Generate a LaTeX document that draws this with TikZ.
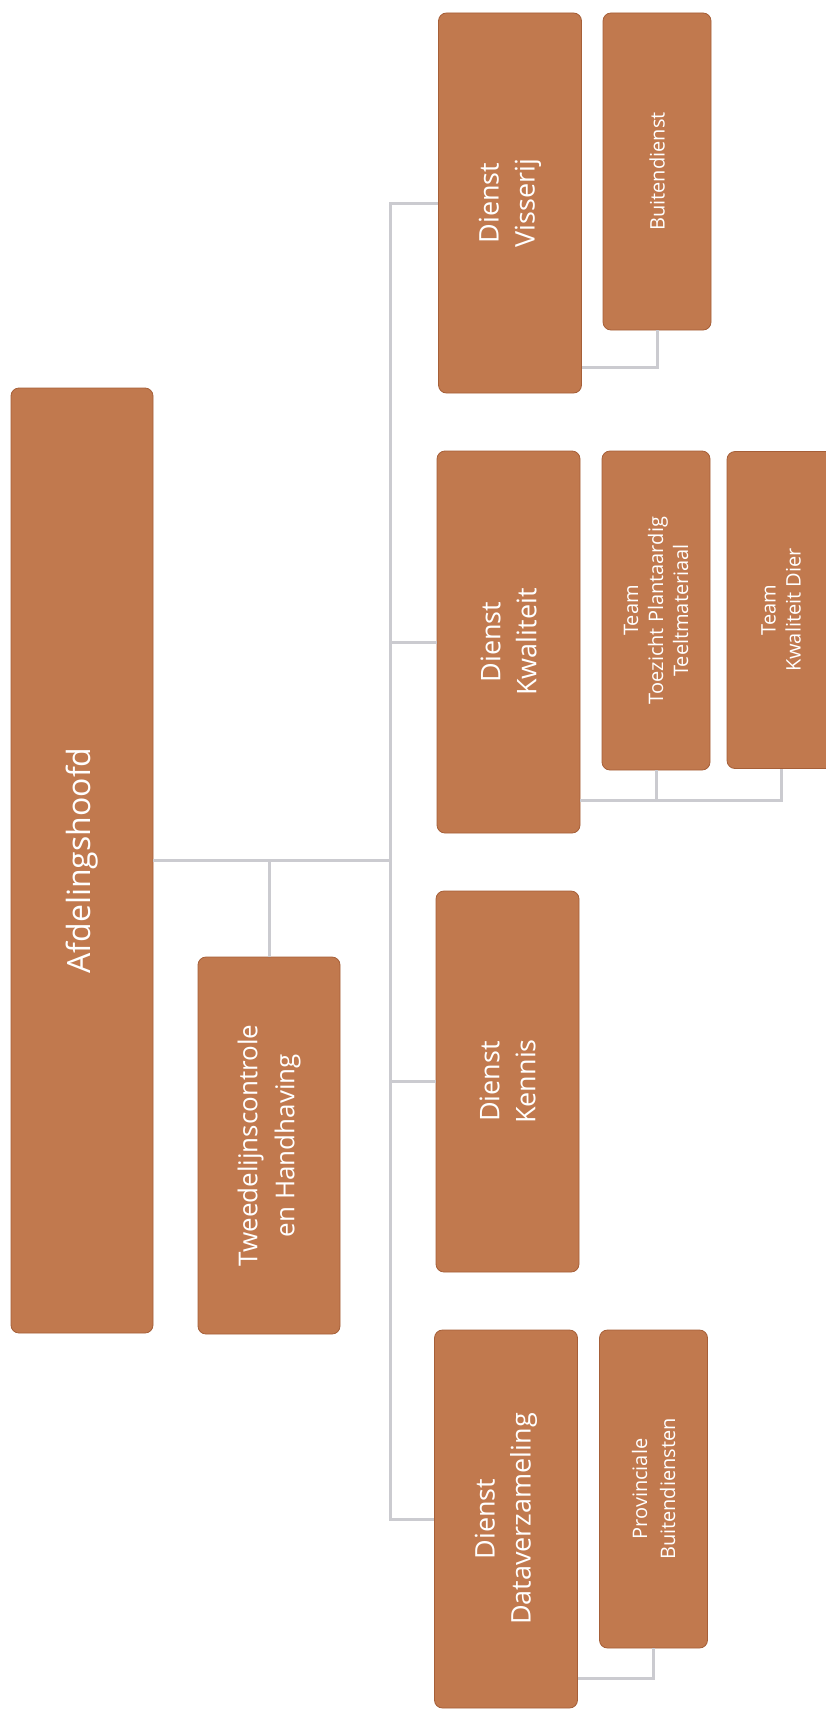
\documentclass[tikz,border=0pt]{standalone}
\usepackage{fontspec}
\setmainfont{Open Sans}
\definecolor{boxfill}{HTML}{C1794E}
\definecolor{boxedge}{HTML}{A65F38}
\definecolor{linegray}{HTML}{CBCBD0}
\begin{document}
\begin{tikzpicture}[x=1pt,y=-1pt,
  box/.style={draw=boxedge, line width=0.8pt, fill=boxfill, rounded corners=8pt, inner sep=0pt},
  mainbox/.style={box, minimum width=143pt},
  subbox/.style={box, minimum width=108pt},
  txt/.style={rotate=90, text=white, align=center, inner sep=0pt},
  bigtxt/.style={txt, font=\fontsize{27}{36}\selectfont},
  smalltxt/.style={txt, font=\fontsize{20}{25}\selectfont},
  conn/.style={draw=linegray, line width=3pt}]
\useasboundingbox (0,0) rectangle (826,1710);
\fill[white] (0,0) rectangle (826,1710);
% boxes
\node[mainbox, minimum width=142pt, minimum height=945pt] (afd) at (82,860.5) {};
\node[mainbox, minimum width=142pt, minimum height=377pt] (tweede) at (269,1145.5) {};
\node[mainbox, minimum height=380pt] (visserij) at (510,203) {};
\node[subbox, minimum height=317pt] (buiten) at (657,171.5) {};
\node[mainbox, minimum height=382pt] (kwal) at (508.5,642) {};
\node[subbox, minimum height=319pt] (toezicht) at (656,610.5) {};
\node[subbox, minimum height=317pt] (dier) at (781,610) {};
\node[mainbox, minimum height=381pt] (kennis) at (507.5,1081.5) {};
\node[mainbox, minimum height=378pt] (data) at (506,1519) {};
\node[subbox, minimum height=318pt] (prov) at (653.5,1489) {};
% texts
\node[txt, font=\fontsize{32}{40}\selectfont] (tafd) at (afd.center) {Afdelingshoofd};
\node[txt, font=\fontsize{26}{37}\selectfont] (ttweede) at (tweede.center) {Tweedelijnscontrole\\en Handhaving};
\node[bigtxt] (tvis) at (visserij.center) {Dienst\\Visserij};
\node[smalltxt] (tbui) at (buiten.center) {Buitendienst};
\node[bigtxt] (tkwal) at (kwal.center) {Dienst\\Kwaliteit};
\node[smalltxt] (ttoe) at (toezicht.center) {Team\\Toezicht Plantaardig\\Teeltmateriaal};
\node[smalltxt] (tdier) at (dier.center) {Team\\Kwaliteit Dier};
\node[bigtxt] (tken) at (kennis.center) {Dienst\\Kennis};
\node[bigtxt] (tdata) at (data.center) {Dienst\\Dataverzameling};
\node[smalltxt, font=\fontsize{20}{28}\selectfont] (tprov) at (prov.center) {Provinciale\\Buitendiensten};
% connectors
\coordinate (bustop) at (390,203);
\coordinate (busbot) at (390,1519);
\draw[conn] (visserij.west) -- (bustop) -- (busbot) -- (data.west);
\draw[conn] (bustop |- kwal.west) -- (kwal.west);
\draw[conn] (bustop |- kennis.west) -- (kennis.west);
\draw[conn] (afd.east) -- (bustop |- afd.east);
\draw[conn] (tweede.north) -- (tweede.north |- afd.east);
\draw[conn] (visserij.east |- 0,367) -- (buiten.south |- 0,367) -- (buiten.south);
\draw[conn] (kwal.east |- 0,800) -- (dier.south |- 0,800) -- (dier.south);
\draw[conn] (toezicht.south) -- (toezicht.south |- 0,800);
\draw[conn] (data.east |- 0,1678) -- (prov.south |- 0,1678) -- (prov.south);
\end{tikzpicture}
\end{document}
